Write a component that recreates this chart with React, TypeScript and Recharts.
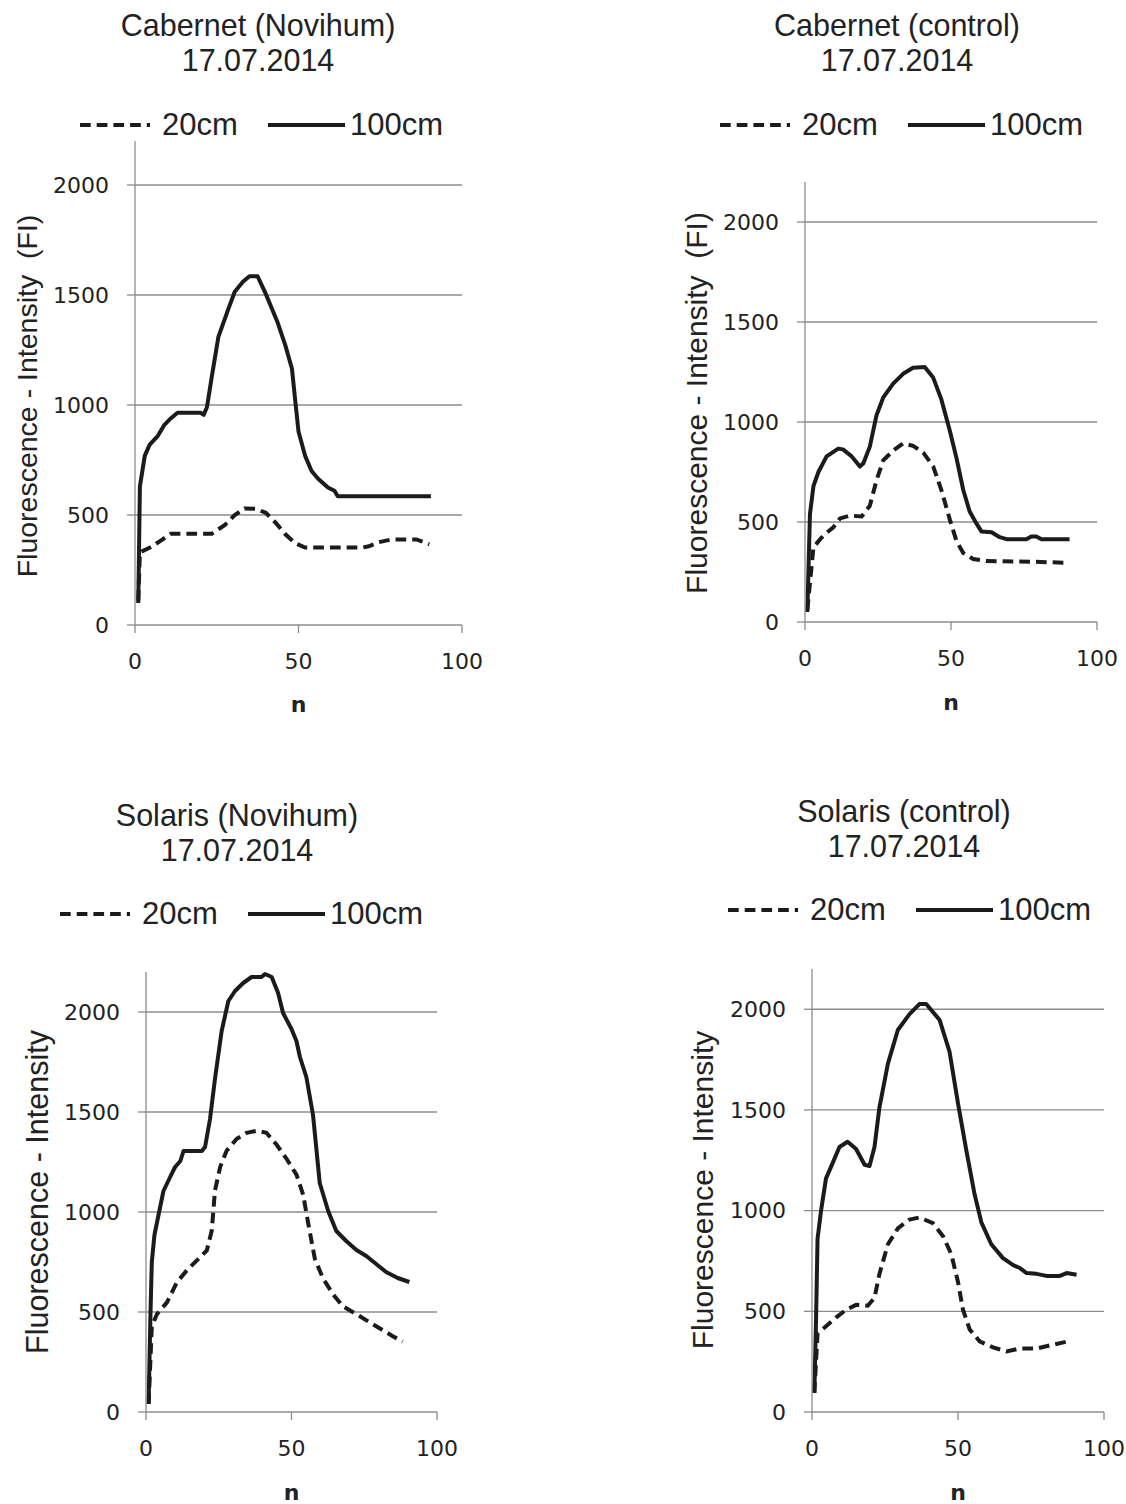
import { LineChart, Line, XAxis, YAxis, CartesianGrid } from "recharts";

// values: n positions and fluorescence intensity
// Cabernet (Novihum)
const cabNovN20 = [1, 1.5, 5, 8, 11, 23.5, 27.5, 30.5, 33.5, 37, 40, 43, 46, 49, 52, 69.5, 71.5, 74.5, 78.5, 86, 90];
const cabNov20 = [110, 330, 355, 385, 415, 415, 455, 500, 530, 528, 510, 465, 412, 372, 352, 352, 358, 376, 389, 389, 367];
const cabNovN100 = [1, 1.5, 3, 4.5, 7, 9, 11, 13, 20, 21, 22, 23.5, 25.5, 28.5, 30.5, 33, 35, 37.5, 40, 43.5, 46, 48, 49, 50, 52, 54, 56, 59, 61, 62, 90.5];
const cabNov100 = [100, 630, 770, 820, 860, 910, 940, 965, 965, 955, 990, 1130, 1310, 1435, 1515, 1560, 1585, 1585, 1505, 1380, 1270, 1165, 1020, 880, 770, 700, 665, 625, 610, 585, 585];

// Cabernet (control)
const cabCtlN20 = [0.8, 2.9, 6.3, 9.7, 12, 15.4, 19.4, 22.2, 24.5, 26.8, 30.2, 33.6, 37, 40.5, 43.9, 46.7, 49.6, 51.9, 54.2, 57.6, 62, 79, 90];
const cabCtl20 = [60, 374, 433, 473, 518, 532, 528, 581, 709, 808, 857, 893, 881, 847, 778, 660, 512, 404, 345, 315, 305, 301, 296];
const cabCtlN100 = [0.8, 1.7, 2.9, 4.6, 7.4, 11.4, 13, 16, 18.8, 20, 22.2, 24.5, 26.8, 30.2, 33.6, 37, 41, 43.9, 46.7, 49.6, 51.9, 54.2, 56.4, 58.7, 60.4, 63.9, 66.7, 69, 75.8, 77.5, 79.2, 81, 90.6];
const cabCtl100 = [50, 540, 680, 750, 828, 867, 863, 828, 778, 794, 877, 1034, 1123, 1192, 1241, 1271, 1275, 1222, 1113, 956, 818, 660, 552, 493, 453, 449, 424, 414, 414, 428, 428, 414, 414];

// Solaris (Novihum)
const solNovN20 = [0.9, 2, 3.8, 7.2, 10.6, 14, 17.5, 20.9, 22.6, 23.7, 25.5, 27.7, 31.2, 34.6, 38, 41.4, 44.9, 48.3, 51.7, 54, 55.7, 58, 60.8, 64.3, 67.7, 72.3, 76.8, 81.4, 84.8, 88.2];
const solNov20 = [40, 430, 490, 548, 648, 708, 758, 808, 907, 1107, 1226, 1306, 1366, 1396, 1406, 1396, 1336, 1266, 1187, 1087, 947, 768, 668, 588, 528, 489, 449, 409, 379, 353];
const solNovN100 = [0.9, 1.5, 2, 2.9, 4.3, 6, 8.3, 10, 11.8, 12.9, 19.2, 20.3, 22, 23.7, 26, 28.3, 30.6, 33.4, 36.3, 39.7, 40.9, 43.2, 45.4, 47.1, 50, 51.7, 52.9, 55.1, 57.4, 59.7, 62.6, 65.4, 68.8, 72.3, 75.7, 79.1, 82.5, 86.5, 90.5];
const solNov100 = [40, 470, 750, 885, 985, 1105, 1175, 1225, 1255, 1305, 1305, 1325, 1465, 1665, 1905, 2055, 2105, 2145, 2175, 2175, 2190, 2175, 2095, 1995, 1915, 1855, 1775, 1675, 1485, 1145, 1005, 905, 855, 810, 780, 740, 700, 670, 650];

// Solaris (control)
const solCtlN20 = [0.8, 1.9, 4.8, 8.2, 11.7, 15.1, 19.1, 21.4, 23.1, 26, 29.4, 33.4, 36.8, 41.4, 44.9, 47.7, 50, 51.7, 54, 57.4, 62, 66.6, 71.2, 76.9, 81.5, 87.8];
const solCtl20 = [95, 390, 426, 469, 508, 532, 528, 567, 686, 833, 912, 956, 966, 938, 873, 784, 646, 508, 410, 351, 321, 301, 315, 315, 331, 351];
const solCtlN100 = [0.8, 1.4, 1.9, 3.1, 4.8, 7.1, 9.4, 12.2, 15.1, 18, 19.7, 21.4, 23.1, 26, 29.4, 33.4, 36.8, 39.1, 43.7, 47.1, 50, 52.9, 55.7, 58, 61.4, 65.4, 68.9, 71.2, 73.5, 76.9, 80.3, 84.9, 87.2, 90.6];
const solCtl100 = [95, 470, 860, 1000, 1160, 1237, 1316, 1342, 1306, 1228, 1222, 1316, 1513, 1730, 1897, 1976, 2026, 2026, 1947, 1789, 1533, 1296, 1080, 942, 833, 764, 729, 715, 690, 686, 676, 676, 690, 682];

const Y_TICKS = [0, 500, 1000, 1500, 2000];
const X_TICKS = [0, 50, 100];
const SERIES_NAMES = ["20cm", "100cm"];

const zip = (ns: number[], vs: number[]) => ns.map((n, i) => ({ n, v: vs[i] }));

const GRID = "#8c8c8c";
const INK = "#1b1b1b";
const DASH = "10.7 6";
const SANS = "'Liberation Sans', Arial, sans-serif";
const TICK_FONT = "'DejaVu Sans', Verdana, sans-serif";

// axis box sizes around each plot area
const YW = 95;
const MT = 10;
const MR = 30;
const XH = 95;

interface PanelSpec {
  title: string;
  yLabel: string;
  d20: { n: number; v: number }[];
  d100: { n: number; v: number }[];
  // plot area (pixel) and text placement
  x0: number;
  x1: number;
  y0: number;
  yTop: number;
  titleX: number;
  titleY: number;
  legX: number;
  legY: number;
  yLabX: number;
  yLabY: number;
  yLabSize: number;
  nY: number;
}

const panels: PanelSpec[] = [
  {
    title: "Cabernet (Novihum)", yLabel: "Fluorescence - Intensity  (FI)",
    d20: zip(cabNovN20, cabNov20), d100: zip(cabNovN100, cabNov100),
    x0: 135, x1: 462, y0: 625, yTop: 141,
    titleX: 258, titleY: 25, legX: 80, legY: 125, yLabX: 27, yLabY: 396, yLabSize: 28.5, nY: 706,
  },
  {
    title: "Cabernet (control)", yLabel: "Fluorescence - Intensity  (FI)",
    d20: zip(cabCtlN20, cabCtl20), d100: zip(cabCtlN100, cabCtl100),
    x0: 805, x1: 1097, y0: 622, yTop: 182,
    titleX: 897, titleY: 25, legX: 720, legY: 125, yLabX: 697, yLabY: 403, yLabSize: 30, nY: 704,
  },
  {
    title: "Solaris (Novihum)", yLabel: "Fluorescence - Intensity",
    d20: zip(solNovN20, solNov20), d100: zip(solNovN100, solNov100),
    x0: 146, x1: 437, y0: 1412, yTop: 972,
    titleX: 237, titleY: 815, legX: 60, legY: 914, yLabX: 37, yLabY: 1192, yLabSize: 30.5, nY: 1494,
  },
  {
    title: "Solaris (control)", yLabel: "Fluorescence - Intensity",
    d20: zip(solCtlN20, solCtl20), d100: zip(solCtlN100, solCtl100),
    x0: 812, x1: 1104, y0: 1412, yTop: 969,
    titleX: 904, titleY: 811, legX: 728, legY: 910, yLabX: 703, yLabY: 1190, yLabSize: 30, nY: 1494,
  },
];

const Legend = ({ x, y }: { x: number; y: number }) => (
  <>
    <svg style={{ position: "absolute", left: x, top: y - 5 }} width={270} height={10}>
      <line x1={0} y1={5} x2={70} y2={5} stroke={INK} strokeWidth={4} strokeDasharray={DASH} />
      <line x1={188} y1={5} x2={265} y2={5} stroke={INK} strokeWidth={4} />
    </svg>
    <div style={{ position: "absolute", left: x + 82, top: y - 16, fontSize: 31, lineHeight: "32px", color: "#222" }}>
      {SERIES_NAMES[0]}
    </div>
    <div style={{ position: "absolute", left: x + 270, top: y - 16, fontSize: 31, lineHeight: "32px", color: "#222" }}>
      {SERIES_NAMES[1]}
    </div>
  </>
);

const Panel = ({ p }: { p: PanelSpec }) => {
  const width = YW + (p.x1 - p.x0) + MR;
  const height = MT + (p.y0 - p.yTop) + XH;
  return (
    <>
      <div
        style={{
          position: "absolute", left: p.titleX - 220, top: p.titleY - 17.5, width: 440,
          textAlign: "center", fontSize: 30.5, lineHeight: "35px", color: "#222",
        }}
      >
        {p.title}
        <br />
        17.07.2014
      </div>
      <Legend x={p.legX} y={p.legY} />
      <div
        style={{
          position: "absolute", left: p.yLabX - 250, top: p.yLabY - 18, width: 500, height: 36,
          lineHeight: "36px", textAlign: "center", fontSize: p.yLabSize, color: "#222",
          whiteSpace: "pre", transform: "rotate(-90deg)",
        }}
      >
        {p.yLabel}
      </div>
      <div style={{ position: "absolute", left: p.x0 - YW, top: p.yTop - MT }}>
        <LineChart width={width} height={height} margin={{ top: MT, right: MR, bottom: 0, left: 0 }}>
          <CartesianGrid
            horizontal vertical={false} horizontalValues={Y_TICKS.slice(1)}
            stroke={GRID} strokeWidth={1.3}
          />
          <XAxis
            type="number" dataKey="n" domain={[0, 100]} ticks={X_TICKS} height={XH}
            axisLine={{ stroke: GRID, strokeWidth: 1.3 }} tickLine={{ stroke: GRID, strokeWidth: 1.3 }}
            tickSize={8} tickMargin={20}
            tick={{ fill: "#222", fontSize: 22, fontFamily: TICK_FONT }}
            label={{
              value: "n", position: "insideBottom", offset: p.y0 + XH - (p.nY + 6),
              fill: "#222", fontSize: 22, fontWeight: "bold", fontFamily: TICK_FONT,
            }}
          />
          <YAxis
            type="number" domain={[0, 2200]} ticks={Y_TICKS} width={YW}
            axisLine={{ stroke: GRID, strokeWidth: 1.3 }} tickLine={{ stroke: GRID, strokeWidth: 1.3 }}
            tickSize={8} tickMargin={18}
            tick={{ fill: "#222", fontSize: 22, fontFamily: TICK_FONT }}
          />
          <Line
            data={p.d20} dataKey="v" type="linear" stroke={INK} strokeWidth={4}
            strokeDasharray={DASH} dot={false} isAnimationActive={false}
          />
          <Line
            data={p.d100} dataKey="v" type="linear" stroke={INK} strokeWidth={4}
            strokeLinejoin="round" dot={false} isAnimationActive={false}
          />
        </LineChart>
      </div>
    </>
  );
};

export default function App() {
  return (
    <div
      style={{
        position: "absolute", left: 0, top: 0, width: 1126, height: 1504,
        background: "#fff", fontFamily: SANS, overflow: "hidden",
      }}
    >
      {panels.map((p) => (
        <Panel key={p.title} p={p} />
      ))}
    </div>
  );
}
